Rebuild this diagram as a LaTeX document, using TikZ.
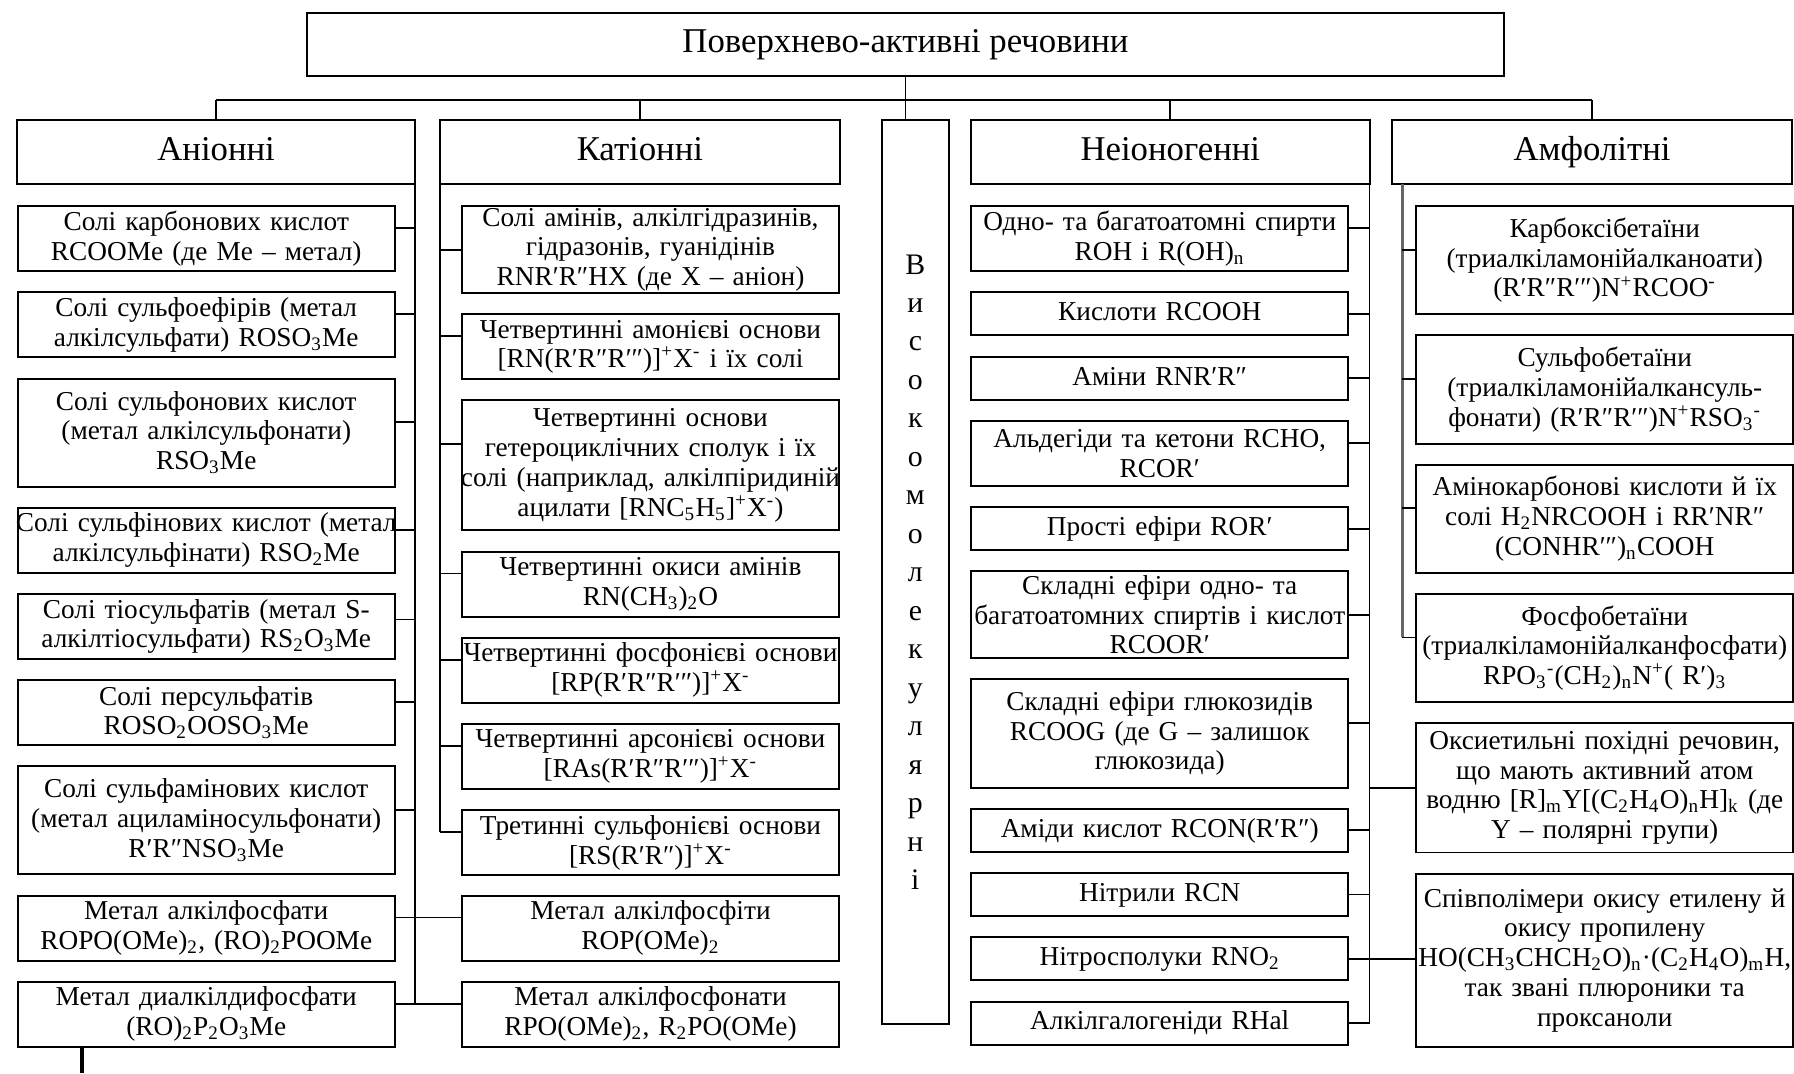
\documentclass[tikz,border=0pt]{standalone}
\usepackage{fontspec}
\setmainfont{Liberation Serif}
\usetikzlibrary{positioning}

\begin{document}
\begin{tikzpicture}[
  node distance=3mm,
  box/.style={draw, line width=0.8pt, align=center, inner sep=0pt, outer sep=0pt},
  hdr/.style={box, minimum width=5.64cm, minimum height=0.91cm, text height=10pt, text depth=3pt, font=\fontsize{14}{16}\selectfont},
  item/.style={box, text width=5.64cm, inner xsep=-0.15cm, font=\fontsize{11}{12}\selectfont},
  ln1/.style={minimum height=0.61cm, text height=8pt, text depth=2.5pt},
  ln2/.style={minimum height=0.92cm},
  ln3/.style={minimum height=1.53cm},
  wire/.style={line width=0.7pt},
  gwire/.style={line width=1.2pt, draw=black!60}]
\useasboundingbox[fill=white] (0,0) rectangle (25.4,-15.195);

\node[box, anchor=north, minimum width=16.96cm, minimum height=0.89cm, font=\fontsize{14}{16}\selectfont] (top) at (12.82,-0.19) {Поверхнево-активні речовини};

\node[hdr, anchor=north] (an) at (3.06,-1.70) {Аніонні};
\node[hdr, anchor=north, minimum width=5.67cm] (ca) at (9.06,-1.70) {Катіонні};
\node[box, anchor=north, minimum width=0.94cm, minimum height=12.8cm, font=\fontsize{12}{15.5}\selectfont] (vm) at (12.96,-1.70) {В\\и\\с\\о\\к\\о\\м\\о\\л\\е\\к\\у\\л\\я\\р\\н\\і};
\node[hdr, anchor=north] (ne) at (16.57,-1.70) {Неіоногенні};
\node[hdr, anchor=north, minimum width=5.65cm] (am) at (22.54,-1.70) {Амфолітні};

\node[item, ln2, anchor=north] (a1) at (2.92,-2.92) {Солі карбонових кислот\\RCOOMe (де Me – метал)};
\node[item, ln2, below=of a1] (a2) {Солі сульфоефірів (метал\\алкілсульфати) ROSO\textsubscript{3}Me};
\node[item, ln3, below=of a2] (a3) {Солі сульфонових кислот\\(метал алкілсульфонати)\\RSO\textsubscript{3}Me};
\node[item, ln2, below=of a3] (a4) {Солі сульфінових кислот (метал\\алкілсульфінати) RSO\textsubscript{2}Me};
\node[item, ln2, below=of a4] (a5) {Солі тіосульфатів (метал S-\\алкілтіосульфати) RS\textsubscript{2}O\textsubscript{3}Me};
\node[item, ln2, below=of a5] (a6) {Солі персульфатів\\ROSO\textsubscript{2}OOSO\textsubscript{3}Me};
\node[item, ln3, below=of a6] (a7) {Солі сульфамінових кислот\\(метал ациламіносульфонати)\\R′R″NSO\textsubscript{3}Me};
\node[item, ln2, below=of a7] (a8) {Метал алкілфосфати\\ROPO(OMe)\textsubscript{2}, (RO)\textsubscript{2}POOMe};
\node[item, ln2, below=of a8] (a9) {Метал диалкілдифосфати\\(RO)\textsubscript{2}P\textsubscript{2}O\textsubscript{3}Me};

\node[item, anchor=north, minimum height=1.23cm] (c1) at (9.21,-2.92) {Солі амінів, алкілгідразинів,\\гідразонів, гуанідінів\\RNR′R″HX (де X – аніон)};
\node[item, ln2, below=of c1] (c2) {Четвертинні амонієві основи\\{}[RN(R′R″R′″)]\textsuperscript{+}X\textsuperscript{-} і їх солі};
\node[item, minimum height=1.84cm, below=of c2] (c3) {Четвертинні основи\\гетероциклічних сполук і їх\\солі (наприклад, алкілпіридиній\\ацилати [RNC\textsubscript{5}H\textsubscript{5}]\textsuperscript{+}X\textsuperscript{-})};
\node[item, ln2, below=of c3] (c4) {Четвертинні окиси амінів\\RN(CH\textsubscript{3})\textsubscript{2}O};
\node[item, ln2, below=of c4] (c5) {Четвертинні фосфонієві основи\\{}[RP(R′R″R′″)]\textsuperscript{+}X\textsuperscript{-}};
\node[item, ln2, below=of c5] (c6) {Четвертинні арсонієві основи\\{}[RAs(R′R″R′″)]\textsuperscript{+}X\textsuperscript{-}};
\node[item, ln2, below=of c6] (c7) {Третинні сульфонієві основи\\{}[RS(R′R″)]\textsuperscript{+}X\textsuperscript{-}};
\node[item, ln2] (c8) at (c1 |- a8) {Метал алкілфосфіти\\ROP(OMe)\textsubscript{2}};
\node[item, ln2] (c9) at (c1 |- a9) {Метал алкілфосфонати\\RPO(OMe)\textsubscript{2}, R\textsubscript{2}PO(OMe)};

\node[item, ln2, anchor=north] (n1) at (16.42,-2.92) {Одно- та багатоатомні спирти\\ROH і R(OH)\textsubscript{n}};
\node[item, ln1, below=of n1] (n2) {Кислоти RCOOH};
\node[item, ln1, below=of n2] (n3) {Аміни RNR′R″};
\node[item, ln2, below=of n3] (n4) {Альдегіди та кетони RCHO,\\RCOR′};
\node[item, ln1, below=of n4] (n5) {Прості ефіри ROR′};
\node[item, minimum height=1.23cm, below=of n5] (n6) {Складні ефіри одно- та\\багатоатомних спиртів і кислот\\RCOOR′};
\node[item, ln3, below=of n6] (n7) {Складні ефіри глюкозидів\\RCOOG (де G – залишок\\глюкозида)};
\node[item, ln1, below=of n7] (n8) {Аміди кислот RCON(R′R″)};
\node[item, ln1, below=of n8] (n9) {Нітрили RCN};
\node[item, ln1, below=of n9] (n10) {Нітросполуки RNO\textsubscript{2}};
\node[item, ln1, below=of n10] (n11) {Алкілгалогеніди RHal};

\node[item, ln3, anchor=north] (m1) at (22.72,-2.92) {Карбоксібетаїни\\(триалкіламонійалканоати)\\(R′R″R′″)N\textsuperscript{+}RCOO\textsuperscript{-}};
\node[item, ln3, below=of m1] (m2) {Сульфобетаїни\\(триалкіламонійалкансуль-\\фонати) (R′R″R′″)N\textsuperscript{+}RSO\textsubscript{3}\textsuperscript{-}};
\node[item, ln3, below=of m2] (m3) {Амінокарбонові кислоти й їх\\солі H\textsubscript{2}NRCOOH і RR′NR″\\(CONHR′″)\textsubscript{n}COOH};
\node[item, ln3, below=of m3] (m4) {Фосфобетаїни\\(триалкіламонійалканфосфати)\\RPO\textsubscript{3}\textsuperscript{-}(CH\textsubscript{2})\textsubscript{n}N\textsuperscript{+}( R′)\textsubscript{3}};
\node[item, minimum height=1.83cm, below=of m4] (m5) {Оксиетильні похідні речовин,\\що мають активний атом\\водню [R]\textsubscript{m}Y[(C\textsubscript{2}H\textsubscript{4}O)\textsubscript{n}H]\textsubscript{k} (де\\Y – полярні групи)};
\node[item, minimum height=2.45cm, below=of m5] (m6) {Співполімери окису етилену й\\окису пропилену\\HO(CH\textsubscript{3}CHCH\textsubscript{2}O)\textsubscript{n}·(C\textsubscript{2}H\textsubscript{4}O)\textsubscript{m}H,\\так звані плюроники та\\проксаноли};

\coordinate (tb) at ([yshift=-0.34cm]top.south);
\draw[wire] (top.south) -- (top.south |- vm.north);
\draw[wire] (an.north |- tb) -- (am.north |- tb);
\foreach \h in {an,ca,ne,am} \draw[wire] (\h.north |- tb) -- (\h.north);

\foreach \i/\s in {1/0.15cm, 2/0.15cm, 3/0.15cm, 4/0.15cm, 5/0.1cm, 6/0.15cm, 7/0.15cm, 8/0.15cm, 9/0.15cm}
  \coordinate (pa\i) at ([yshift=\s]a\i.east);
\draw[wire] (an.south east) -- (an.south east |- pa9);
\foreach \i in {1,...,7} \draw[wire] (pa\i) -- (pa\i -| an.south east);
\draw[wire] (pa8) -- (pa8 -| c8.west);
\draw[wire] (pa9) -- (pa9 -| c9.west);

\foreach \i/\s in {1/0cm, 2/0.15cm, 3/0.3cm, 4/0.15cm, 5/0.15cm, 6/0.15cm, 7/0.15cm}
  \coordinate (pc\i) at ([yshift=\s]c\i.west);
\draw[wire] (ca.south west) -- (ca.south west |- pc7);
\foreach \i in {1,...,7} \draw[wire] (pc\i -| ca.south west) -- (pc\i);

\foreach \i/\s in {1/0.15cm, 2/0cm, 3/0cm, 4/0.15cm, 5/0cm, 6/0cm, 7/0.15cm, 8/0cm, 9/0cm, 10/0cm, 11/0cm}
  \coordinate (pn\i) at ([yshift=\s]n\i.east);
\draw[wire] (ne.south east) -- (ne.south east |- pn11);
\foreach \i in {1,2,3,4,5,6,7,8,9,11} \draw[wire] (pn\i) -- (pn\i -| ne.south east);
\draw[wire] (pn10) -- (pn10 -| m6.west);
\draw[wire] (m5.west -| ne.south east) -- (m5.west);

\coordinate (ambus) at ([xshift=0.14cm]am.south west);
\foreach \i in {1,2,3,4} \coordinate (pm\i) at ([yshift=0.15cm]m\i.west);
\draw[gwire] (ambus) -- (ambus |- pm4);
\foreach \i in {1,2,3,4} \draw[wire] (pm\i -| ambus) -- (pm\i);

\coordinate (tail) at (1.16,-15.195);
\draw[line width=1.3pt] (tail |- a9.south) -- (tail);
\end{tikzpicture}
\end{document}
